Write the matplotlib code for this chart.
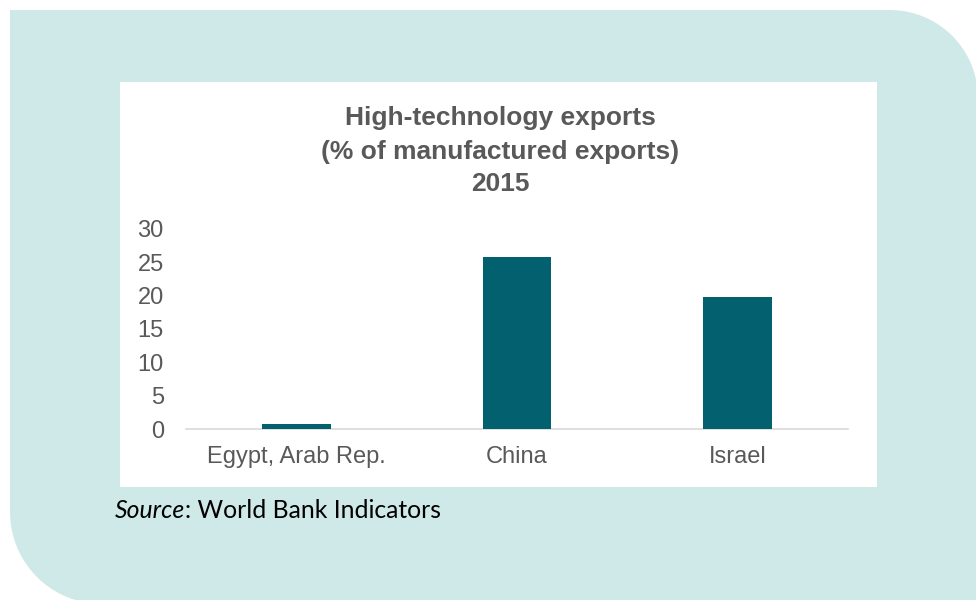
import numpy as np
import matplotlib
matplotlib.use("Agg")
import matplotlib.pyplot as plt
from matplotlib.patches import Polygon, Rectangle

countries = ["Egypt, Arab Rep.", "China", "Israel"]
values = [0.8, 25.8, 19.8]
yticks = [0, 5, 10, 15, 20, 25, 30]

W, H = 976, 600
fig = plt.figure(figsize=(W / 100, H / 100), dpi=100)
fig.patch.set_facecolor("white")


def px(x, y):
    return x / W, 1 - y / H


# teal background, rounded top-right and bottom-left corners
r1, r2 = 88, 92
pts = [(10, 10), (976 - r1 + 2, 10)]
cx, cy = 976 - r1 + 2, 10 + r1
for a in np.linspace(90, 0, 20):
    pts.append((cx + r1 * np.cos(np.radians(a)), cy - r1 * np.sin(np.radians(a))))
pts += [(1000, 700), (10 + r2, 700)]
cx, cy = 10 + r2, 604 - r2
for a in np.linspace(270, 180, 20):
    pts.append((cx + r2 * np.cos(np.radians(a)), cy - r2 * np.sin(np.radians(a))))
pts.append((10, 10))
fig.patches.append(Polygon([px(x, y) for x, y in pts], closed=True,
                           transform=fig.transFigure, facecolor="#cfe9e8",
                           edgecolor="none", zorder=0))

# white chart panel
x0, y0 = px(120, 487)
fig.patches.append(Rectangle((x0, y0), (877 - 120) / W, (487 - 82) / H,
                             transform=fig.transFigure, facecolor="white",
                             edgecolor="none", zorder=1))

ax = fig.add_axes([186 / W, 1 - 429 / H, 662 / W, 200 / H])
ax.set_zorder(2)
ax.set_facecolor("none")
ax.bar(range(len(countries)), values, width=0.31, color="#03606f", zorder=3)
ax.set_xlim(-0.5, 2.5)
ax.set_ylim(0, 30)
ax.set_yticks(yticks)
ax.set_xticks(range(len(countries)))
ax.set_xticklabels(countries)
for s in ["top", "right", "left"]:
    ax.spines[s].set_visible(False)
ax.spines["bottom"].set_color("#d9d9d9")
ax.spines["bottom"].set_linewidth(1.2)
ax.tick_params(axis="both", length=0, labelsize=17, labelcolor="#595959",
               labelfontfamily="Liberation Sans")
ax.tick_params(axis="y", pad=16)
ax.tick_params(axis="x", pad=12)

title_lines = ["High-technology exports", "(% of manufactured exports)", "2015"]
for line, y in zip(title_lines, [118, 152, 184]):
    fig.text(*px(500, y), line, ha="center", va="center", fontsize=19,
             fontweight="bold", color="#595959", family="Liberation Sans",
             zorder=3)

src1 = fig.text(*px(115, 511), "Source", ha="left", va="center", fontsize=17.8,
                style="italic", color="black", family="Lato", zorder=3)
fig.canvas.draw()
bb = src1.get_window_extent()
fig.text(bb.x1 / W, 1 - 511 / H, ": World Bank Indicators", ha="left",
         va="center", fontsize=17.8, color="black", family="Lato", zorder=3)

fig.savefig("out.png", dpi=100)
